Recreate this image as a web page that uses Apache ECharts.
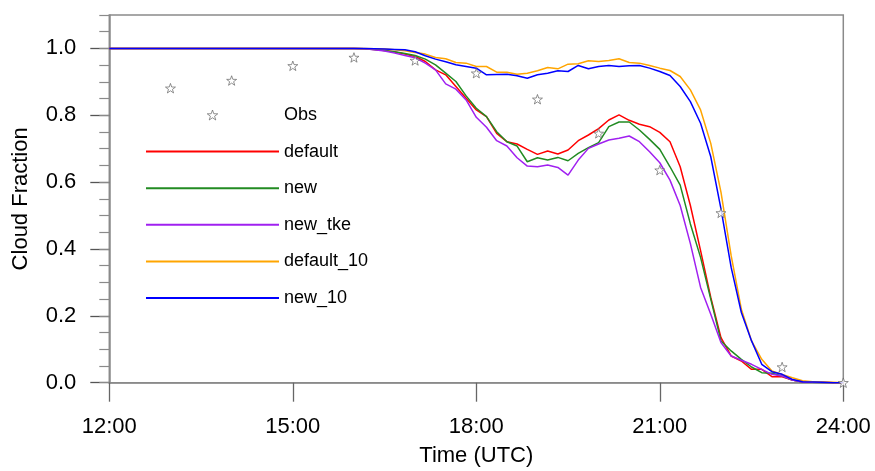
<!DOCTYPE html>
<html>
<head>
<meta charset="utf-8">
<script src="https://cdn.jsdelivr.net/npm/echarts@6/dist/echarts.min.js"></script>
<style>html,body{margin:0;padding:0;background:#fff}#c{width:875px;height:471px}</style>
</head>
<body>
<div id="c"></div>
<script>
// model output every 10 minutes from 12:00 to 24:00 (73 steps)
const stepsPerHour = 6;
const startHour = 12;
const xTicks = [12, 15, 18, 21, 24];
const yTicks = [0, 0.2, 0.4, 0.6, 0.8, 1.0];

const seriesNames = ['default', 'new', 'new_tke', 'default_10', 'new_10'];

const defaultCF = [1,1,1,1,1,1,1,1,1,1,1,1,1,1,1,1,1,1,1,1,1,1,1,1,
  1.0,0.999,0.997,0.994,0.989,0.983,0.976,0.961,0.936,0.921,0.886,0.851,0.816,0.796,0.746,0.721,0.714,0.698,0.683,0.693,0.684,0.696,0.724,0.741,0.76,0.786,0.801,0.785,0.773,0.766,0.749,0.721,0.646,0.53,0.395,0.255,0.135,0.08,0.065,0.04,0.04,0.018,0.018,0.008,0.002,0.001,0.001,0,0];
const newCF = [1,1,1,1,1,1,1,1,1,1,1,1,1,1,1,1,1,1,1,1,1,1,1,1,
  1.0,0.999,0.997,0.994,0.99,0.985,0.979,0.968,0.951,0.926,0.901,0.858,0.821,0.796,0.751,0.721,0.708,0.661,0.673,0.666,0.674,0.664,0.686,0.703,0.718,0.766,0.78,0.78,0.756,0.728,0.698,0.646,0.591,0.475,0.375,0.25,0.125,0.095,0.07,0.047,0.03,0.028,0.02,0.008,0.002,0.001,0,0,0];
const newTkeCF = [1,1,1,1,1,1,1,1,1,1,1,1,1,1,1,1,1,1,1,1,1,1,1,1,
  1.0,0.999,0.996,0.992,0.986,0.979,0.972,0.956,0.936,0.894,0.878,0.846,0.794,0.764,0.724,0.708,0.673,0.648,0.646,0.651,0.644,0.621,0.666,0.701,0.714,0.726,0.731,0.738,0.721,0.691,0.658,0.606,0.53,0.416,0.285,0.205,0.12,0.08,0.067,0.055,0.04,0.025,0.02,0.008,0.002,0.001,0,0,0];
const default10CF = [1,1,1,1,1,1,1,1,1,1,1,1,1,1,1,1,1,1,1,1,1,1,1,1,
  1.0,1.0,0.999,0.998,0.996,0.993,0.988,0.983,0.973,0.969,0.958,0.956,0.946,0.946,0.929,0.929,0.923,0.926,0.933,0.943,0.939,0.953,0.954,0.963,0.961,0.964,0.969,0.958,0.956,0.949,0.941,0.934,0.916,0.876,0.816,0.716,0.57,0.38,0.22,0.125,0.07,0.035,0.025,0.015,0.006,0.003,0.002,0.001,0];
const new10CF = [1,1,1,1,1,1,1,1,1,1,1,1,1,1,1,1,1,1,1,1,1,1,1,1,
  1.0,1.0,0.999,0.998,0.997,0.996,0.99,0.978,0.968,0.96,0.951,0.946,0.941,0.921,0.922,0.923,0.918,0.911,0.921,0.926,0.933,0.931,0.949,0.939,0.946,0.949,0.946,0.948,0.949,0.941,0.931,0.919,0.886,0.841,0.776,0.676,0.52,0.345,0.21,0.125,0.055,0.033,0.025,0.01,0.003,0.002,0.001,0,0];

const obsHours = [13, 14, 15, 16, 17, 18, 19, 20, 21, 22, 23, 24];
const obsCF = [0.881, 0.904, 0.948, 0.973, 0.964, 0.926, 0.848, 0.746, 0.636, 0.508, 0.047, 0.0];

const colors = ['#ff0000', '#228b22', '#a020f0', '#ffa500', '#0000ff'];
const seriesValues = [defaultCF, newCF, newTkeCF, default10CF, new10CF];

const times = [];
for (let i = 0; i < defaultCF.length; i++) times.push(startHour + i / stepsPerHour);

const star = 'path://M10 0 L12.35 6.76 L19.51 6.91 L13.8 11.24 L15.88 18.09 L10 14 L4.12 18.09 L6.2 11.24 L0.49 6.91 L7.65 6.76 Z';

const series = seriesNames.map((n, k) => ({
  name: n, type: 'line', symbol: 'none', showSymbol: false, z: 2 + k,
  lineStyle: { color: colors[k], width: 1.5 },
  itemStyle: { color: colors[k] },
  data: times.map((t, i) => [t, seriesValues[k][i]])
}));
series.push({
  name: 'Obs', type: 'scatter', symbol: star, symbolSize: 10, symbolKeepAspect: true, z: 10,
  itemStyle: { color: '#ffffff', borderColor: '#666', borderWidth: 0.9 },
  data: obsHours.map((h, i) => [h, obsCF[i]])
});

const legendData = [{ name: 'Obs', itemStyle: { borderWidth: 0.9 } }].concat(
  seriesNames.map(n => ({ name: n, itemStyle: { opacity: 0 } })));

const font = '"Liberation Sans", Arial, Helvetica, sans-serif';
const chart = echarts.init(document.getElementById('c'), null, { renderer: 'canvas' });
chart.setOption({
  animation: false,
  backgroundColor: '#fff',
  grid: { left: 109.3, right: 31.7, top: 15, bottom: 88.3, show: true, borderColor: '#8a8a8a', borderWidth: 1.5, backgroundColor: 'transparent', containLabel: false, outerBoundsMode: 'none' },
  legend: {
    orient: 'vertical', left: 145, top: 105, padding: 0,
    data: legendData,
    itemWidth: 133, itemHeight: 10, itemGap: 16.6, symbolKeepAspect: true,
    textStyle: { fontFamily: font, fontSize: 18, color: '#000', lineHeight: 20 },
    selectedMode: false
  },
  xAxis: {
    type: 'value', min: 12, max: 24, interval: 3,
    name: 'Time (UTC)', nameLocation: 'middle', nameGap: 62,
    nameTextStyle: { fontFamily: font, fontSize: 22, color: '#000' },
    axisLine: { lineStyle: { color: '#8a8a8a', width: 1.5 } },
    axisTick: { show: true, inside: false, length: 19, lineStyle: { color: '#666', width: 1.3 }, customValues: xTicks },
    axisLabel: { fontFamily: font, fontSize: 22, color: '#000', margin: 33, customValues: xTicks, formatter: v => v + ':00' },
    splitLine: { show: false }
  },
  yAxis: [{
    type: 'value', min: 0, max: 1.1, interval: 0.2,
    name: 'Cloud Fraction', nameLocation: 'middle', nameGap: 77,
    nameTextStyle: { fontFamily: font, fontSize: 22, color: '#000' },
    axisLine: { show: true, lineStyle: { color: '#8a8a8a', width: 1.5 } },
    axisTick: { show: true, inside: false, length: 19, lineStyle: { color: '#555', width: 1.3 }, customValues: yTicks },
    axisLabel: { fontFamily: font, fontSize: 22, color: '#000', margin: 33, customValues: yTicks, formatter: v => v.toFixed(1) },
    splitLine: { show: false }
  }, {
    type: 'value', min: 0, max: 1.1, interval: 0.05, position: 'left',
    axisLine: { show: false },
    axisTick: { show: true, inside: false, length: 10, lineStyle: { color: '#8a8a8a', width: 1.2 } },
    axisLabel: { show: false },
    splitLine: { show: false }
  }],
  series: series
});
</script>
</body>
</html>
